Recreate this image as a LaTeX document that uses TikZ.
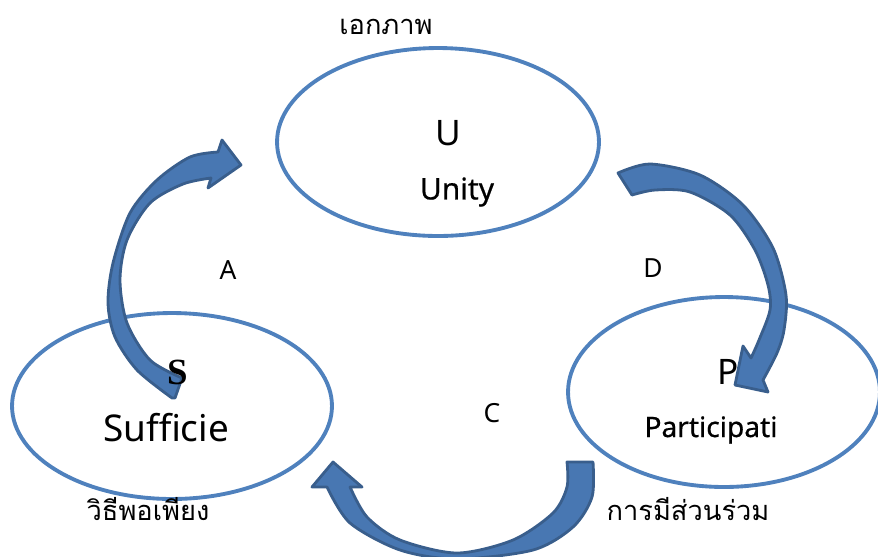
\documentclass[tikz,border=0pt]{standalone}
\usepackage{fontspec}
\setmainfont{Noto Sans}
\newfontfamily\thaifont[Script=Thai]{Loma}
\newfontfamily\serifletter{Liberation Serif}
\newfontfamily\wordfont[FakeBold=0.6]{Noto Sans}
\usetikzlibrary{shapes.geometric}
\definecolor{ringblue}{RGB}{79,129,189}
\definecolor{arrowblue}{RGB}{72,119,178}
\definecolor{arrowedge}{RGB}{57,94,140}

\begin{document}
\begin{tikzpicture}[x=0.02cm,y=-0.02cm,
ring/.style={ellipse,draw=ringblue,line width=2.2pt,inner sep=0pt},
bigarrow/.style={fill=arrowblue,draw=arrowedge,line width=1.6pt,line join=round},
head/.style={font=\fontsize{20}{24}\selectfont},
word/.style={font=\wordfont\fontsize{17}{20}\selectfont},
letter/.style={font=\fontsize{15}{18}\selectfont},
thai/.style={font=\thaifont\fontsize{15.5}{20}\selectfont}]
\clip (0,0) rectangle (878,556);
% the three rings
\node[ring,minimum width=6.44cm,minimum height=3.76cm] (unity) at (438,142) {};
\node[ring,minimum width=6.40cm,minimum height=3.72cm] (suff) at (172,406) {};
\node[ring,minimum width=6.24cm,minimum height=3.80cm] (part) at (724,392) {};
% texts
\node[thai] (tU) at (386,27) {เอกภาพ};
\node[head] (U) at (448,133) {U};
\node[word] (Uw) at (457,192) {Unity};
\node[word,font=\fontsize{21}{24}\selectfont] (Sw) at (166,428) {Sufficie};
\node[head] (P) at (728,372) {P};
\node[word,font=\wordfont\fontsize{16}{20}\selectfont] (Pw) at (711,430) {Participati};
\node[thai] (tS) at (148,509) {วิธีพอเพียง};
\node[thai] (tP) at (688,509) {การมีส่วนร่วม};
\node[letter] (A) at (228,270) {A};
\node[letter] (D) at (653,268) {D};
\node[letter] (C) at (492,413) {C};
% curved block arrows
\draw[bigarrow] (175,398) -- (182,378)
  -- plot[smooth] coordinates {(182,378) (150,360) (127,323) (120,280) (127,240) (150,203) (183,184) (211,178)}
  -- (208,188) -- (241,165) -- (222,140) -- (218,152)
  -- plot[smooth] coordinates {(218,152) (190,157) (157,180) (130,213) (113,263) (108,303) (115,337) (137,370) (172,398)}
  -- cycle;
\draw[bigarrow] (618,173)
  -- plot[smooth] coordinates {(618,173) (650,164) (700,175) (743,205) (773,248) (786,295) (784,330) (777,353) (763,380)}
  -- (768,392) -- (735,385) -- (743,346) -- (751,358)
  -- plot[smooth] coordinates {(751,358) (759,340) (770,310) (768,285) (755,250) (730,215) (690,192) (655,190) (632,195)}
  -- cycle;
\draw[bigarrow] (593,462)
  -- plot[smooth] coordinates {(593,462) (592,497) (573,527) (533,550) (457,559) (400,550) (350,523) (327,487)}
  -- (312,487) -- (333,462) -- (362,487) -- (350,487)
  -- plot[smooth] coordinates {(350,487) (367,517) (400,540) (457,553) (513,540) (553,513) (567,487) (567,462)}
  -- cycle;
% the S sits over the tail of arrow A
\node[head,font=\serifletter\bfseries\fontsize{21}{24}\selectfont] (S) at (178,372) {S};
\end{tikzpicture}
\end{document}
